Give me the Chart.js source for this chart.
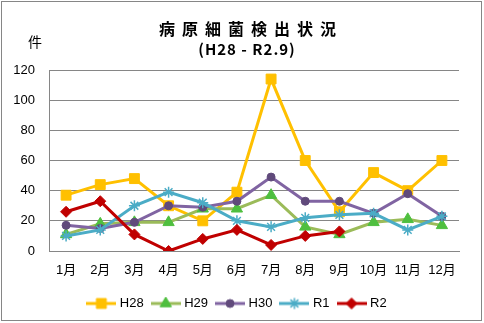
<!DOCTYPE html>
<html>
<head>
<meta charset="utf-8">
<script src="https://cdn.jsdelivr.net/npm/chart.js@4"></script>
<style>
  body { margin: 0; background: #fff; }
  #wrap { width: 484px; height: 323px; }
</style>
</head>
<body>
<div id="wrap"><canvas id="myChart" width="484" height="323"></canvas></div>
<script>
const months = ['1月', '2月', '3月', '4月', '5月', '6月', '7月', '8月', '9月', '10月', '11月', '12月'];
const yTicks = [0, 20, 40, 60, 80, 100, 120];

const h28 = [37, 44, 48, 30, 20, 39, 114, 60, 26, 52, 40, 60];
const h29 = [11, 18, 19, 19, 28, 28, 37, 16, 11, 19, 21, 17];
const h30 = [17, 15, 19, 30, 29, 33, 49, 33, 33, 25, 38, 23];
const r1 = [10, 14, 30, 39, 32, 20, 16, 22, 24, 25, 14, 23];
const r2 = [26, 33, 11, 0, 8, 14, 4, 10, 13, null, null, null];

const FONT = "'Liberation Sans', 'Noto Sans CJK JP', sans-serif";
const GRID = '#868686';

// line + marker icon for the legend
function legendIcon(ds) {
  const c = document.createElement('canvas');
  c.width = 30;
  c.height = 14;
  const ctx = c.getContext('2d');
  ctx.strokeStyle = ds.borderColor;
  ctx.lineWidth = 3;
  ctx.beginPath();
  ctx.moveTo(0, 7);
  ctx.lineTo(30, 7);
  ctx.stroke();
  ctx.fillStyle = ds.pointBackgroundColor;
  ctx.strokeStyle = ds.pointBorderColor;
  ctx.lineWidth = ds.pointBorderWidth;
  Chart.helpers.drawPoint(ctx, {
    pointStyle: ds.pointStyle,
    radius: ds.pointRadius,
    borderWidth: ds.pointBorderWidth,
    rotation: 0
  }, 15, 7);
  return c;
}

// frame, title and unit label
const decor = {
  id: 'decor',
  afterLayout(chart) {
    // centre the legend under the whole frame, not just the padded box
    chart.legend.left += 17;
  },
  afterDraw(chart) {
    const ctx = chart.ctx;
    ctx.save();
    ctx.strokeStyle = GRID;
    ctx.lineWidth = 1;
    ctx.strokeRect(1.5, 1.5, 480, 319);

    ctx.fillStyle = '#000';
    ctx.textAlign = 'center';
    ctx.textBaseline = 'middle';
    ctx.font = "bold 16px 'Noto Sans CJK JP', sans-serif";
    ctx.letterSpacing = '7px';
    ctx.fillText('病原細菌検出状況', 251, 29);
    ctx.font = "bold 15px 'Noto Sans CJK JP', sans-serif";
    ctx.letterSpacing = '1px';
    ctx.fillText('(H28 - R2.9)', 247, 49);
    ctx.letterSpacing = '0px';
    ctx.font = "14px 'Noto Sans CJK JP', sans-serif";
    ctx.fillText('件', 35, 42);
    ctx.restore();
  }
};

const datasets = [
  { label: 'H28', data: h28, borderColor: '#FFC000', pointBackgroundColor: '#FFC000', pointBorderColor: '#FFC000', pointStyle: 'rect', pointRadius: 7, pointBorderWidth: 1, order: 5 },
  { label: 'H29', data: h29, borderColor: '#9BBB59', pointBackgroundColor: '#4FBF3F', pointBorderColor: '#4FBF3F', pointStyle: 'triangle', pointRadius: 6.5, pointBorderWidth: 1, order: 4 },
  { label: 'H30', data: h30, borderColor: '#8064A2', pointBackgroundColor: '#604A7B', pointBorderColor: '#604A7B', pointStyle: 'circle', pointRadius: 4, pointBorderWidth: 1, order: 3 },
  { label: 'R1', data: r1, borderColor: '#4BACC6', pointBackgroundColor: '#4BACC6', pointBorderColor: '#4BACC6', pointStyle: 'star', pointRadius: 5.5, pointBorderWidth: 1.5, order: 2 },
  { label: 'R2', data: r2, borderColor: '#C00000', pointBackgroundColor: '#C00000', pointBorderColor: '#C00000', pointStyle: 'rectRot', pointRadius: 5.5, pointBorderWidth: 1, order: 1 }
].map(ds => Object.assign({ borderWidth: 3, tension: 0, fill: false, spanGaps: false }, ds));

new Chart(document.getElementById('myChart'), {
  type: 'line',
  data: { labels: months, datasets: datasets },
  options: {
    responsive: false,
    animation: false,
    layout: { padding: { top: 70, right: 25, bottom: 3, left: 0 } },
    scales: {
      x: {
        offset: true,
        grid: { display: false, drawTicks: false },
        border: { display: true, color: GRID, width: 1 },
        ticks: { color: '#000', font: { family: FONT, size: 13 }, padding: 12, maxRotation: 0, autoSkip: false },
        afterFit: s => { s.height = 36; }
      },
      y: {
        min: 0,
        max: 120,
        grid: { color: GRID, drawTicks: false },
        border: { display: true, color: GRID, width: 1 },
        afterBuildTicks: s => { s.ticks = yTicks.map(v => ({ value: v })); },
        ticks: { color: '#000', font: { family: FONT, size: 13 }, padding: 14 },
        afterFit: s => { s.width = 49; }
      }
    },
    plugins: {
      title: { display: false },
      tooltip: { enabled: false },
      legend: {
        position: 'bottom',
        labels: {
          color: '#000',
          font: { family: FONT, size: 13 },
          usePointStyle: true,
          pointStyleWidth: 24,
          boxHeight: 13,
          padding: 10,
          generateLabels: chart => chart.data.datasets.map((ds, i) => ({
            text: ds.label,
            pointStyle: legendIcon(ds),
            fillStyle: ds.borderColor,
            strokeStyle: ds.borderColor,
            lineWidth: 0,
            hidden: !chart.isDatasetVisible(i),
            datasetIndex: i
          }))
        }
      }
    }
  },
  plugins: [decor]
});
</script>
</body>
</html>
